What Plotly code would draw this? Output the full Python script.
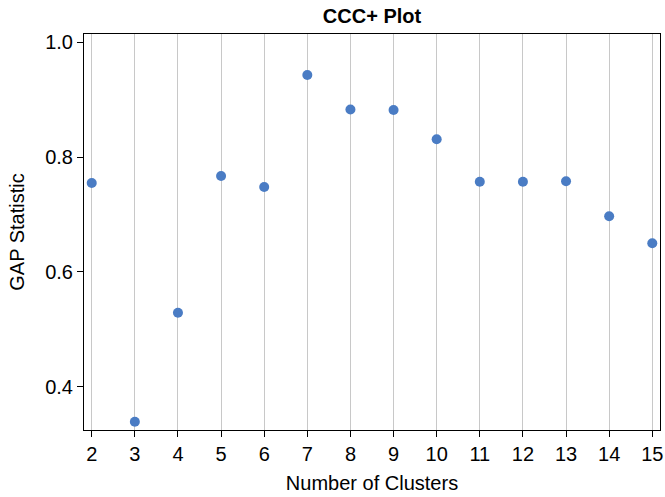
import plotly.graph_objects as go

# Number of clusters and the corresponding GAP statistic
clusters = [2, 3, 4, 5, 6, 7, 8, 9, 10, 11, 12, 13, 14, 15]
gap_stat = [0.755, 0.339, 0.529, 0.767, 0.748, 0.943, 0.883, 0.882,
            0.831, 0.757, 0.757, 0.758, 0.697, 0.650]

y_ticks = [0.4, 0.6, 0.8, 1.0]
y_tick_text = ["0.4", "0.6", "0.8", "1.0"]

fig = go.Figure(
    go.Scatter(
        x=clusters,
        y=gap_stat,
        mode="markers",
        marker=dict(size=10, color="#4a7cc4"),
        showlegend=False,
    )
)

font_family = "Liberation Sans, Arial, sans-serif"

fig.update_layout(
    width=665,
    height=497,
    margin=dict(l=84, r=5, t=34, b=67),
    plot_bgcolor="white",
    paper_bgcolor="white",
    font=dict(family=font_family, size=20, color="black"),
    title=dict(
        text="<b>CCC+ Plot</b>",
        x=0.5, xanchor="center", xref="paper",
        y=1 - 16 / 497, yanchor="middle",
        font=dict(size=20, family=font_family, color="black"),
    ),
)

fig.update_xaxes(
    range=[1.821, 15.179],
    tickmode="array",
    tickvals=clusters,
    ticktext=[str(c) for c in clusters],
    ticks="outside",
    ticklen=6,
    tickcolor="black",
    showgrid=True,
    gridcolor="#c8c8c8",
    gridwidth=1,
    zeroline=False,
    showline=True,
    linecolor="black",
    linewidth=1,
    mirror=True,
    title=dict(text="Number of Clusters", standoff=11, font=dict(size=20)),
    tickfont=dict(size=20),
    ticklabeloverflow="allow",
    automargin=False,
)

fig.update_yaxes(
    range=[0.3246, 1.0145],
    tickmode="array",
    tickvals=y_ticks,
    ticktext=y_tick_text,
    ticks="outside",
    ticklen=6,
    tickcolor="black",
    showgrid=False,
    zeroline=False,
    showline=True,
    linecolor="black",
    linewidth=1,
    mirror=True,
    title=dict(text="GAP Statistic", standoff=15, font=dict(size=20)),
    tickfont=dict(size=20),
    automargin=False,
)

fig.write_html("out.html")
